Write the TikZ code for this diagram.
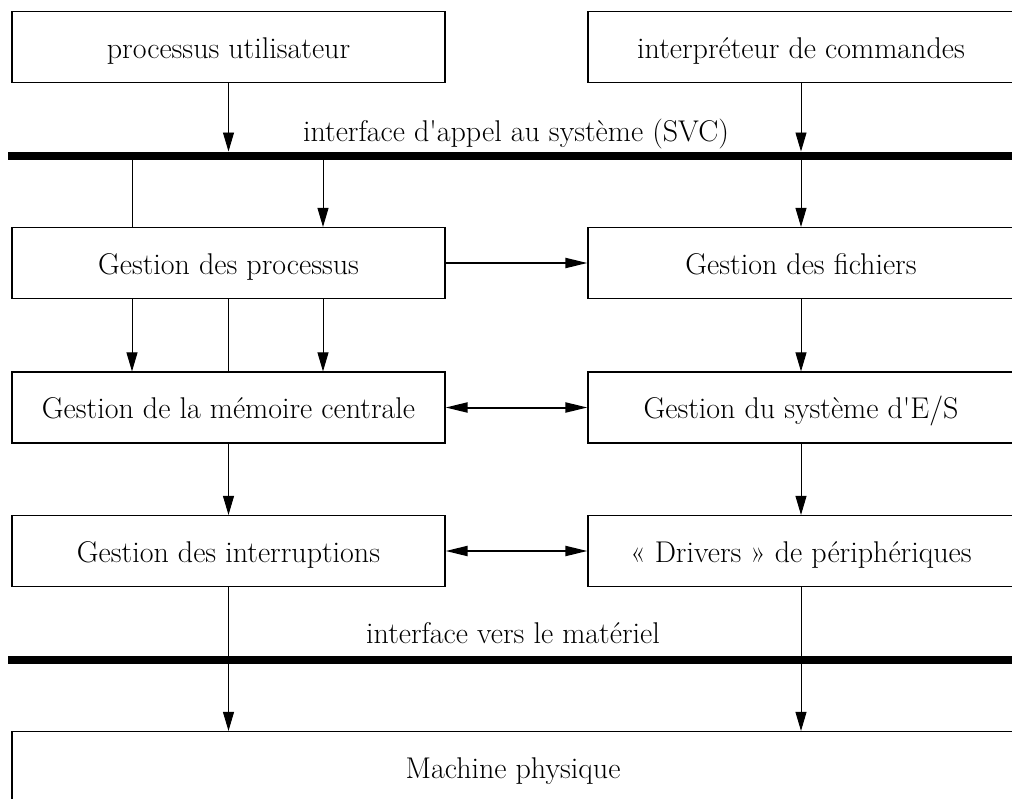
\documentclass[tikz,border=0pt]{standalone}
\usepackage{fontspec}
\usetikzlibrary{arrows.meta}
\begin{document}
\begin{tikzpicture}[x=1pt,y=-1pt,
  box/.style={draw, line width=1.2pt, minimum height=71pt, inner sep=0pt, text height=22pt, text depth=0pt, font=\fontsize{30}{36}\selectfont},
  lcol/.style={box, minimum width=433pt},
  rcol/.style={box, minimum width=426pt},
  lbl/.style={inner sep=0pt, anchor=base, font=\fontsize{30}{36}\selectfont},
  conn/.style={line width=0.9pt},
  arr/.style={conn, -{Triangle[length=19pt,width=11pt]}},
  darrow/.style={line width=2pt, -{Triangle[length=22pt,width=10pt]}},
  ddarrow/.style={line width=2pt, {Triangle[length=22pt,width=10pt]}-{Triangle[length=22pt,width=10pt]}},
  bar/.style={line width=8pt}]
\useasboundingbox (0,0) rectangle (1012,798);

% boxes
\node[lcol] (pu) at (228.5,47) {processus utilisateur};
\node[rcol] (ic) at (801,47) {interpréteur de commandes};
\node[lcol] (gp) at (228.5,263) {Gestion des processus};
\node[rcol] (gf) at (801,263) {Gestion des fichiers};
\node[lcol] (gm) at (228.5,407.5) {Gestion de la mémoire centrale};
\node[rcol] (ges) at (801,407.5) {Gestion du système d\textquotesingle E/S};
\node[lcol] (gi) at (228.5,551) {Gestion des interruptions};
\node[rcol] (dr) at (801,551) {« Drivers » de périphériques};
\node[box, minimum width=1002pt] (mp) at (513,767) {Machine physique};

% labels
\node[lbl] (l1) at (516,141) {interface d\textquotesingle appel au système (SVC)};
\node[lbl] (l2) at (513,643) {interface vers le matériel};

% bar coordinates
\coordinate (b1L) at (8,155.5);
\coordinate (b1R) at (1012,155.5);
\coordinate (b1t) at (0,151.5);
\coordinate (b1b) at (0,159.5);
\coordinate (b2L) at (8,659.5);
\coordinate (b2R) at (1012,659.5);
\coordinate (xa) at (132,0);
\coordinate (xc) at (323,0);

% connectors
\draw[arr] (pu.south) -- (pu.south |- b1t);
\draw[arr] (ic.south) -- (ic.south |- b1t);
\draw[conn] (xa |- b1b) -- (xa |- gp.north);
\draw[arr] (xc |- b1b) -- (xc |- gp.north);
\draw[arr] (gf.north |- b1b) -- (gf.north);

\draw[darrow] (gp.east) -- (gf.west);
\draw[arr] (xa |- gp.south) -- (xa |- gm.north);
\draw[conn] (gp.south) -- (gm.north);
\draw[arr] (xc |- gp.south) -- (xc |- gm.north);
\draw[arr] (gf.south) -- (ges.north);

\draw[ddarrow] (gm.east) -- (ges.west);
\draw[arr] (gm.south) -- (gi.north);
\draw[arr] (ges.south) -- (dr.north);

\draw[ddarrow] (gi.east) -- (dr.west);
\draw[arr] (gi.south) -- (gi.south |- mp.north);
\draw[arr] (dr.south) -- (dr.south |- mp.north);

% bars
\draw[bar] (b1L) -- (b1R);
\draw[bar] (b2L) -- (b2R);
\end{tikzpicture}
\end{document}
